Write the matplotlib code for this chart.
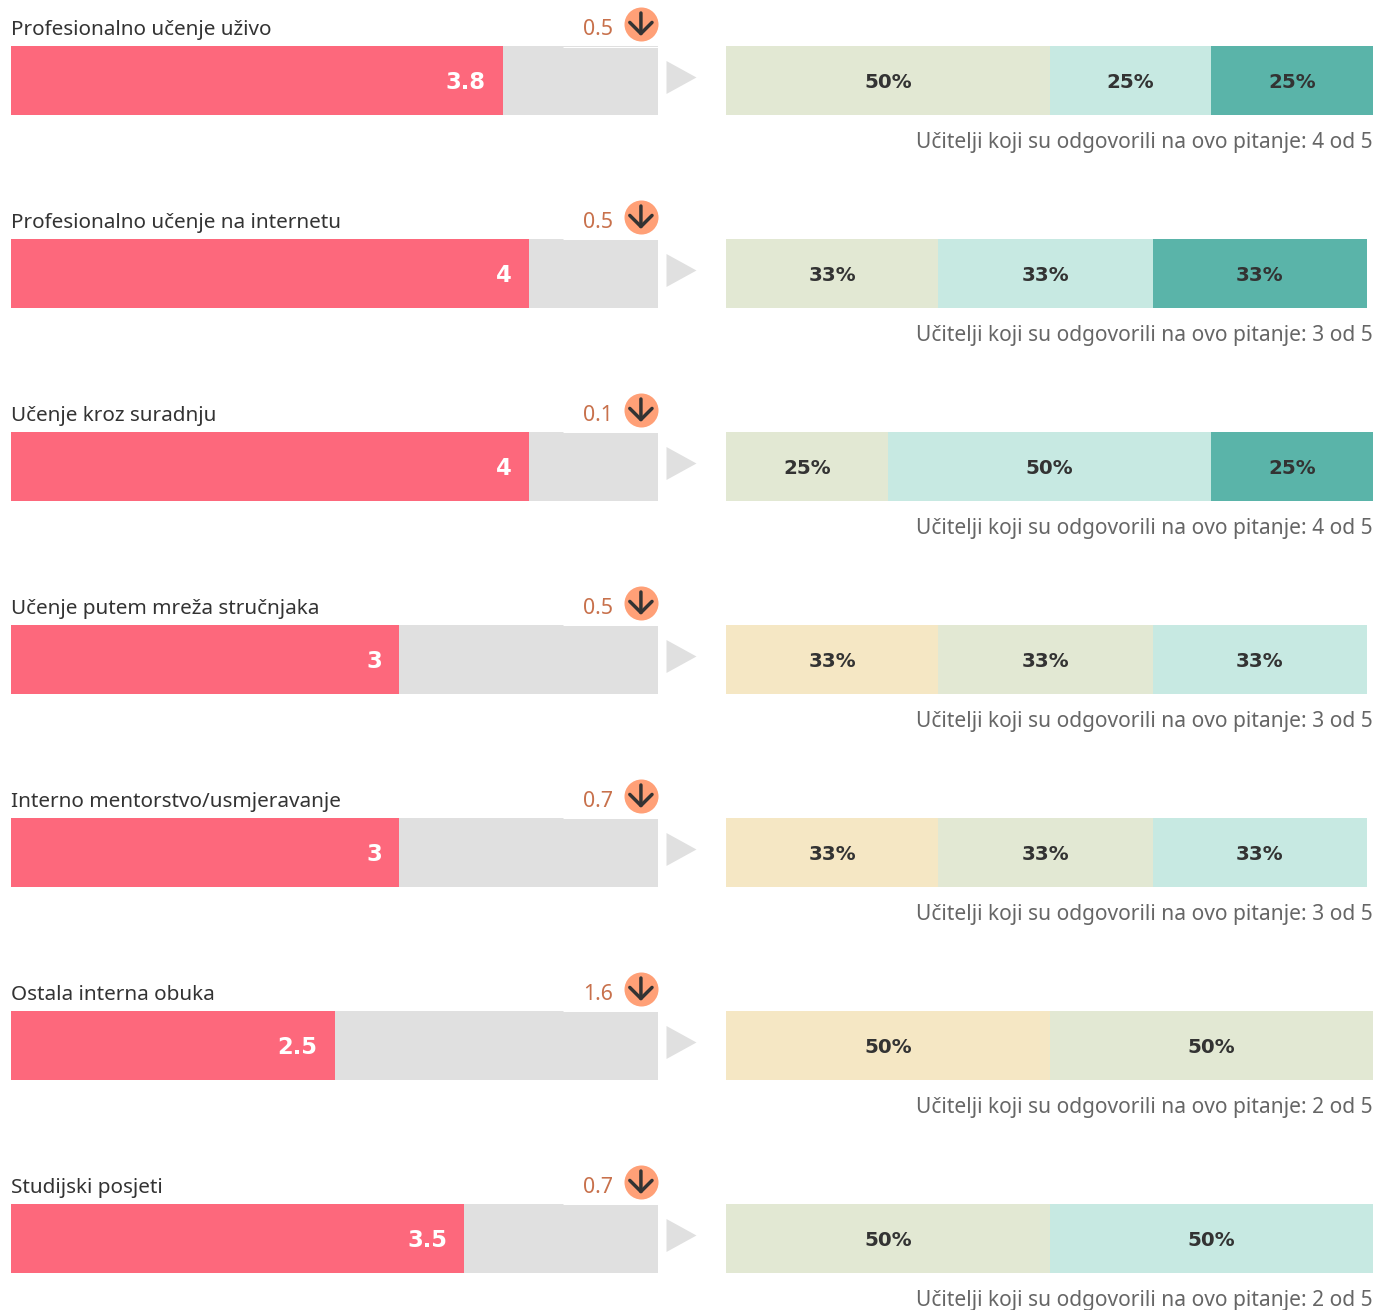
import matplotlib
matplotlib.use('Agg')
import matplotlib.pyplot as plt
import numpy as np

labels = ['Profesionalno učenje uživo', 'Profesionalno učenje na internetu', 'Učenje kroz suradnju',
          'Učenje putem mreža stručnjaka', 'Interno mentorstvo/usmjeravanje', 'Ostala interna obuka',
          'Studijski posjeti']
scores = [3.8, 4, 4, 3, 3, 2.5, 3.5]
score_text = ['3.8', '4', '4', '3', '3', '2.5', '3.5']
deltas = ['0.5', '0.5', '0.1', '0.5', '0.7', '1.6', '0.7']
answered = [4, 3, 4, 3, 3, 2, 2]

# segment widths as measured, labels show them rounded
share_a = [0, 0, 0, 32.8, 32.8, 50, 0]
share_b = [50, 32.8, 25, 33.2, 33.2, 50, 50]
share_c = [25, 33.2, 50, 33, 33, 0, 50]
share_d = [25, 33, 25, 0, 0, 0, 0]
shares = [share_a, share_b, share_c, share_d]
share_colors = ['#F5E7C4', '#E2E8D3', '#C7E9E2', '#5AB4A9']

W, H = 1375, 1310
ROW = 193
fig = plt.figure(figsize=(W / 100, H / 100), dpi=100)
plt.rcParams['font.family'] = ['Noto Sans', 'DejaVu Sans']

ylim = ((H - 80.5) / ROW, -80.5 / ROW)
ax = fig.add_axes([11 / W, 0, 647 / W, 1])
ax2 = fig.add_axes([726 / W, 0, 647 / W, 1])
for a in (ax, ax2):
    a.set_ylim(*ylim)
    a.axis('off')
ax.set_xlim(0, 5)
ax2.set_xlim(0, 100)

y = np.arange(len(labels))
bh = 69 / ROW
px = 1 / ROW

# left side
ax.barh(y, [5] * len(y), height=bh, color='#E0E0E0', linewidth=0)
ax.barh(y, scores, height=bh, color='#FD687C', linewidth=0)
for i in y:
    # white strip from the header box, 1px over the grey bar
    ax.plot([4.266, 5], [i - bh / 2 + px / 2] * 2, color='white', lw=0.72, solid_capstyle='butt')
    ax.text(scores[i] - 0.13, i + 8.5 * px, score_text[i], color='white', fontsize=16.3, fontweight='bold',
            family='DejaVu Sans', ha='right', va='baseline')
    ax.text(0, i - 45.5 * px, labels[i], color='#333333', fontsize=14.9, ha='left', va='baseline')
    ax.text(4.653, i - 45.5 * px, deltas[i], color='#C8714C', fontsize=15.4, ha='right', va='baseline')
    # down arrow badge
    ax.scatter([4.868], [i - 56.5 * px], s=600, color='#FFA077', linewidth=0, clip_on=False, zorder=3)
    ax.annotate('', xy=(4.868, i - 44.5 * px), xytext=(4.868, i - 67.5 * px), zorder=4,
                arrowprops=dict(arrowstyle='->,head_length=0.8,head_width=0.8', mutation_scale=10,
                                color='#333333', lw=2.5, shrinkA=0, shrinkB=0))
    # triangle between the two parts
    ax.scatter([5.175], [i - 3.5 * px], marker=[(-15, -16.5), (15, 0), (-15, 16.5)], s=564, color='#E0E0E0',
               linewidth=0, clip_on=False)

# right side
left = np.zeros(len(y))
for vals, col in zip(shares, share_colors):
    vals = np.array(vals)
    ax2.barh(y, vals, left=left, height=bh, color=col, linewidth=0)
    for i in y:
        if vals[i] > 0:
            ax2.text(left[i] + vals[i] / 2, i + 7.5 * px, f'{round(vals[i])}%', color='#333333', fontsize=14.3,
                     fontweight='bold', family='DejaVu Sans', ha='center', va='baseline')
    left += vals

for i in y:
    ax2.text(99.9, i + 67.5 * px, f'Učitelji koji su odgovorili na ovo pitanje: {answered[i]} od 5',
             color='#666666', fontsize=15.1, ha='right', va='baseline', clip_on=False)

fig.savefig('out.png', dpi=100)
